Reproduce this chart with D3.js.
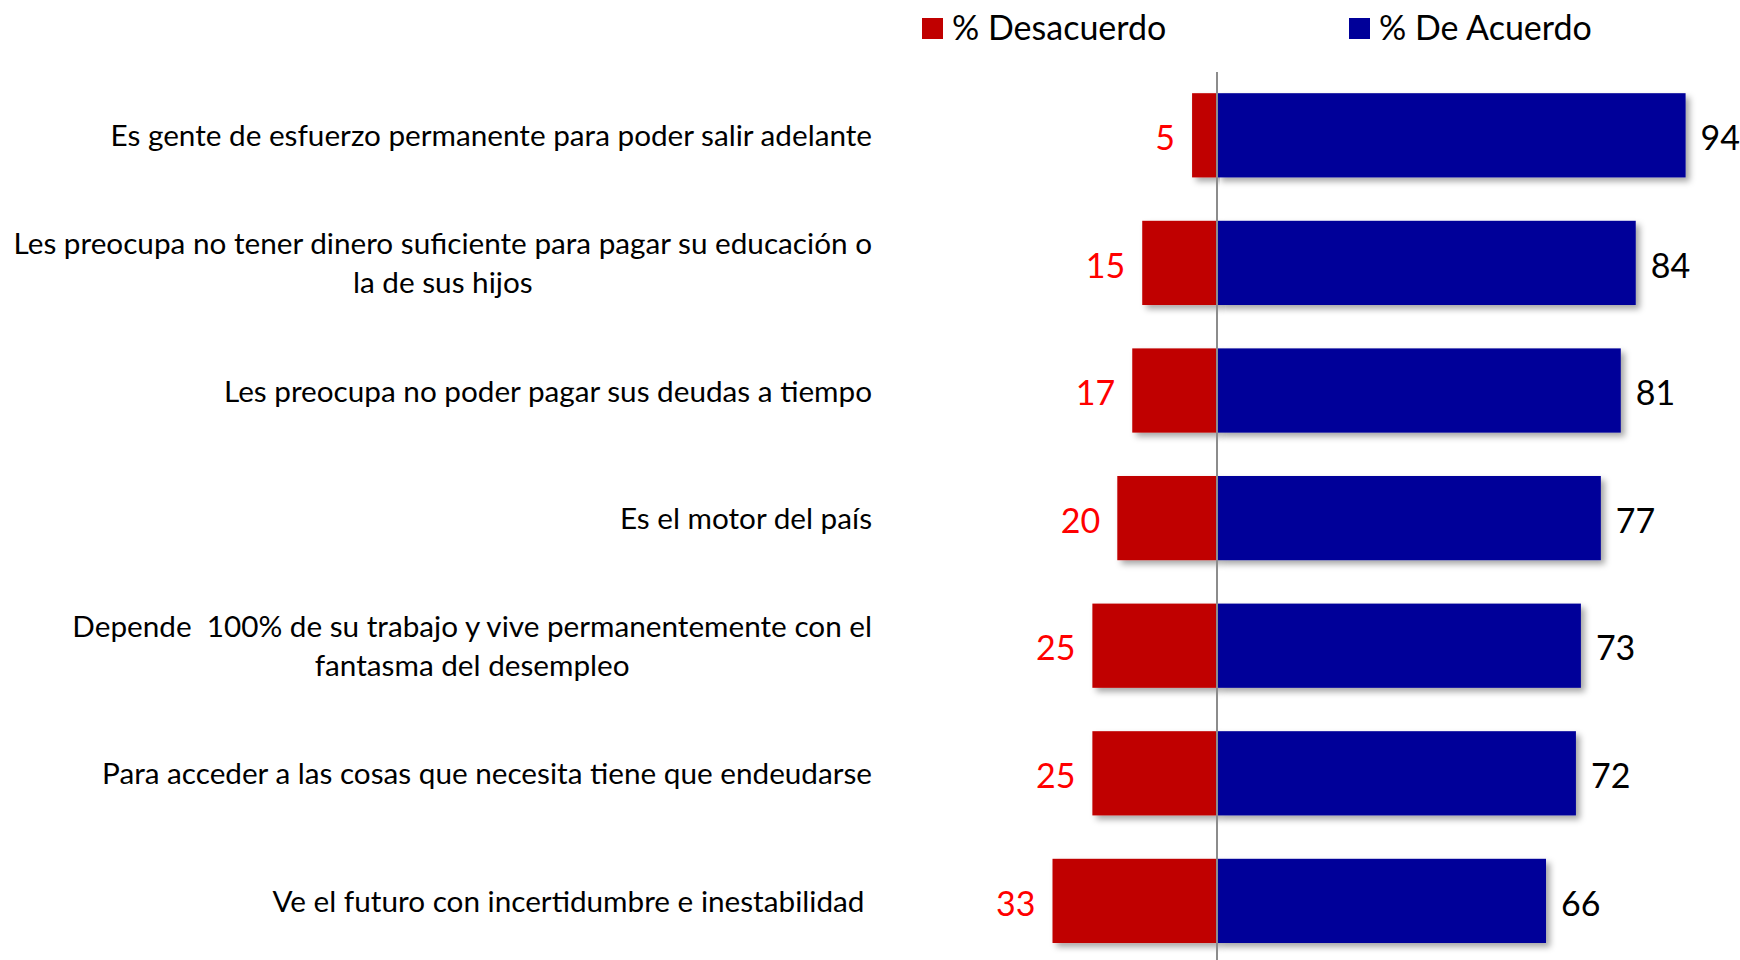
<!DOCTYPE html>
<html>
<head>
<meta charset="utf-8">
<script src="https://cdn.jsdelivr.net/npm/d3@7"></script>
<style>
  body { margin: 0; background: #fff; }
  text { font-family: Lato, "Open Sans", sans-serif; white-space: pre; }
</style>
</head>
<body>
<script>
// data
var categories = [
    ["Es gente de esfuerzo permanente para poder salir adelante"],
    ["Les preocupa no tener dinero suficiente para pagar su educación o", "la de sus hijos"],
    ["Les preocupa no poder pagar sus deudas a tiempo"],
    ["Es el motor del país"],
    ["Depende  100% de su trabajo y vive permanentemente con el", "fantasma del desempleo"],
    ["Para acceder a las cosas que necesita tiene que endeudarse"],
    ["Ve el futuro con incertidumbre e inestabilidad "]
];
var desacuerdo = [5, 15, 17, 20, 25, 25, 33];
var deAcuerdo = [94, 84, 81, 77, 73, 72, 66];
var seriesNames = ["% Desacuerdo", "% De Acuerdo"];

// Step 1: chart setup
//= ================================
var svgWidth = 1740;
var svgHeight = 960;
var red = "#C00000";
var blue = "#000099";

var svg = d3.select("body")
    .append("svg")
    .attr("width", svgWidth)
    .attr("height", svgHeight);

var defs = svg.append("defs");
defs.append("filter")
    .attr("id", "shadow")
    .attr("x", "-5%").attr("y", "-20%")
    .attr("width", "115%").attr("height", "150%")
    .append("feDropShadow")
    .attr("dx", 4).attr("dy", 4)
    .attr("stdDeviation", 3)
    .attr("flood-color", "#000")
    .attr("flood-opacity", 0.35);

var idx = d3.range(categories.length);

var xScale = d3.scaleLinear()
    .domain([-40, 100])
    .range([1217 - 40 * 4.985, 1217 + 100 * 4.985]);

var yScale = d3.scaleBand()
    .domain(idx)
    .range([71.5, 964.7])
    .paddingInner(0.34)
    .paddingOuter(0.17);

// Step 2: bars
//= ================================
var rows = svg.append("g").selectAll("g")
    .data(idx)
    .enter()
    .append("g");

rows.append("rect")
    .attr("x", i => xScale(-desacuerdo[i]))
    .attr("y", i => yScale(i))
    .attr("width", i => xScale(0) - xScale(-desacuerdo[i]))
    .attr("height", yScale.bandwidth())
    .attr("fill", red)
    .attr("filter", "url(#shadow)");

rows.append("rect")
    .attr("x", xScale(0))
    .attr("y", i => yScale(i))
    .attr("width", i => xScale(deAcuerdo[i]) - xScale(0))
    .attr("height", yScale.bandwidth())
    .attr("fill", blue)
    .attr("filter", "url(#shadow)");

// zero line
svg.append("line")
    .attr("x1", xScale(0)).attr("x2", xScale(0))
    .attr("y1", 72).attr("y2", svgHeight)
    .attr("stroke", "#8c8c8c")
    .attr("stroke-width", 2);

// value labels
rows.append("text")
    .attr("x", i => xScale(-desacuerdo[i]) - 17)
    .attr("y", i => yScale(i) + yScale.bandwidth() / 2 + 6)
    .attr("text-anchor", "end")
    .attr("dominant-baseline", "middle")
    .attr("font-size", 34)
    .attr("fill", "#FF0000")
    .text(i => desacuerdo[i]);

rows.append("text")
    .attr("x", i => xScale(deAcuerdo[i]) + 15)
    .attr("y", i => yScale(i) + yScale.bandwidth() / 2 + 6)
    .attr("dominant-baseline", "middle")
    .attr("font-size", 34)
    .attr("fill", "#000")
    .text(i => deAcuerdo[i]);

// Step 3: category labels
//= ================================
var labelRight = 872;
var lineGap = 39;

var catGroup = svg.append("g");
// fit the font to the widest line seen in the picture (859px)
var probe = catGroup.append("text").attr("font-size", 30)
    .text(categories[1][0]);
var fontSize = 30 * 859 / probe.node().getComputedTextLength();
probe.remove();

categories.forEach(function (lines, i) {
    var cy = yScale(i) + yScale.bandwidth() / 2 + 3;
    var t = catGroup.append("text")
        .attr("font-size", fontSize)
        .attr("fill", "#000")
        .attr("dominant-baseline", "middle");
    var spans = lines.map(function (line, k) {
        return t.append("tspan")
            .attr("y", cy + (k - (lines.length - 1) / 2) * lineGap)
            .text(line);
    });
    if (lines.length === 1) {
        t.attr("text-anchor", "end");
        spans[0].attr("x", labelRight);
    } else {
        var w = d3.max(spans, s => s.node().getComputedTextLength());
        t.attr("text-anchor", "middle");
        spans.forEach(s => s.attr("x", labelRight - w / 2));
    }
});

// Step 4: legend
//= ================================
var legend = svg.append("g");
var legendX = [922, 1349];
[red, blue].forEach(function (c, k) {
    legend.append("rect")
        .attr("x", legendX[k]).attr("y", 18)
        .attr("width", 21).attr("height", 21)
        .attr("fill", c);
    legend.append("text")
        .attr("x", legendX[k] + 30)
        .attr("y", 31)
        .attr("dominant-baseline", "middle")
        .attr("font-size", 34)
        .text(seriesNames[k]);
});
</script>
</body>
</html>
